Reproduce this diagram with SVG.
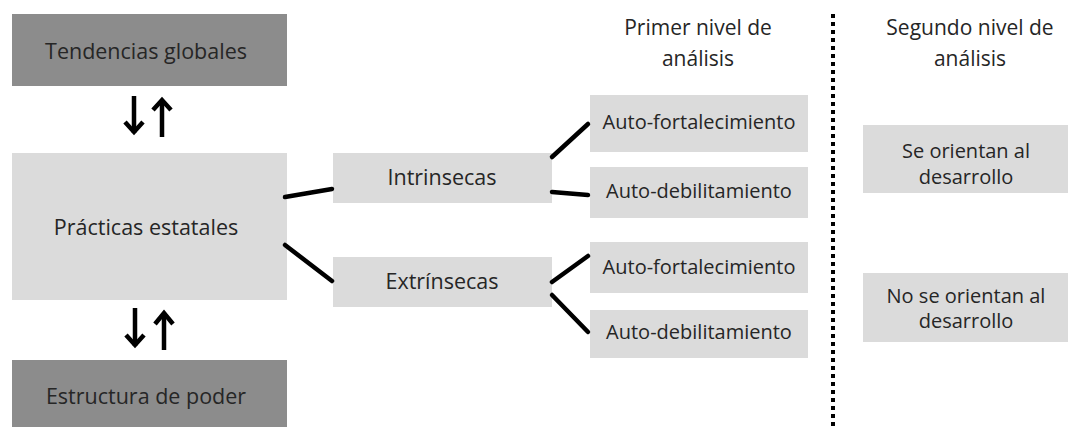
<svg xmlns="http://www.w3.org/2000/svg" width="1069" height="427" viewBox="0 0 1069 427">
<style>
.dark{fill:#8c8c8c}
.light{fill:#dbdbdb}
text{font-family:"Open Sans","Liberation Sans",sans-serif;fill:#262626;text-anchor:middle}
.big{font-size:21.5px}
.mid{font-size:20px}
.hdr{font-size:21px}
.conn{stroke:#000;stroke-width:4.5;stroke-linecap:round;fill:none}
.arr{stroke:#000;stroke-width:4.5;fill:none;stroke-linejoin:miter;stroke-linecap:butt}
</style>
<rect width="1069" height="427" fill="#fff"/>
<g id="tendencias"><rect class="dark" x="12" y="14" width="275" height="72"/><text class="big" x="146" y="58.5">Tendencias globales</text></g>
<g id="practicas"><rect class="light" x="12" y="153" width="275" height="147"/><text class="big" x="146" y="234.5">Prácticas estatales</text></g>
<g id="estructura"><rect class="dark" x="12" y="360" width="275" height="67"/><text class="big" x="146" y="403.5">Estructura de poder</text></g>
<g id="intrinsecas"><rect class="light" x="333" y="153" width="219" height="50"/><text class="big" x="442" y="184.5">Intrinsecas</text></g>
<g id="extrinsecas"><rect class="light" x="333" y="257" width="219" height="50"/><text class="big" x="442" y="288.5">Extrínsecas</text></g>
<g id="af1"><rect class="light" x="590" y="95" width="218" height="57"/><text class="mid" x="699" y="129">Auto-fortalecimiento</text></g>
<g id="ad1"><rect class="light" x="590" y="167" width="218" height="51"/><text class="mid" x="699" y="198">Auto-debilitamiento</text></g>
<g id="af2"><rect class="light" x="590" y="242" width="218" height="51"/><text class="mid" x="699" y="274">Auto-fortalecimiento</text></g>
<g id="ad2"><rect class="light" x="590" y="310" width="218" height="48"/><text class="mid" x="699" y="339">Auto-debilitamiento</text></g>
<g id="primer"><text class="hdr" x="698" y="35">Primer nivel de</text><text class="hdr" x="698" y="66">análisis</text></g>
<g id="segundo"><text class="hdr" x="970" y="35">Segundo nivel de</text><text class="hdr" x="970" y="66">análisis</text></g>
<g id="se"><rect class="light" x="863" y="125" width="205" height="68"/><text class="mid" x="966" y="158">Se orientan al</text><text class="mid" x="966" y="184">desarrollo</text></g>
<g id="no"><rect class="light" x="863" y="273" width="205" height="69"/><text class="mid" x="966" y="303">No se orientan al</text><text class="mid" x="966" y="328">desarrollo</text></g>
<g id="connectors">
<line x1="833" y1="14" x2="833" y2="427" stroke="#000" stroke-width="4" stroke-dasharray="4 4"/>
<line class="conn" x1="285" y1="197" x2="332" y2="189"/>
<line class="conn" x1="285" y1="245" x2="332" y2="281"/>
<line class="conn" x1="552" y1="157" x2="588" y2="124"/>
<line class="conn" x1="552" y1="192" x2="588" y2="195"/>
<line class="conn" x1="552" y1="282" x2="588" y2="256"/>
<line class="conn" x1="552" y1="295" x2="588" y2="332"/>
<line class="arr" x1="134" y1="96" x2="134" y2="133"/><polyline class="arr" points="125,122 134,132 143,122"/>
<line class="arr" x1="162" y1="100" x2="162" y2="137"/><polyline class="arr" points="153,110 162,100 171,110"/>
<line class="arr" x1="135" y1="308" x2="135" y2="346"/><polyline class="arr" points="126,335 135,345 144,335"/>
<line class="arr" x1="164" y1="313" x2="164" y2="350"/><polyline class="arr" points="155,324 164,313 173,324"/>
</g>
</svg>
